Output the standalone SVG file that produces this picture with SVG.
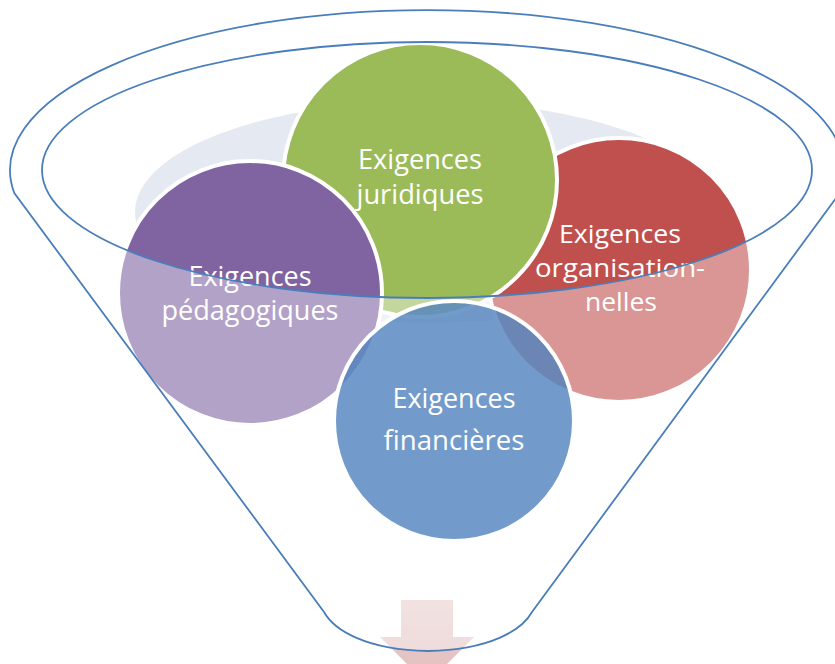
<svg xmlns="http://www.w3.org/2000/svg" width="835" height="664" viewBox="0 0 835 664">
  <defs>
    <style>
      .circle { stroke: #FFFFFF; stroke-width: 4; }
      .label { font-family: "Open Sans", "Liberation Sans", sans-serif; font-size: 27px; fill: #FFFFFF; text-anchor: middle; }
      .small { font-size: 25px; }
      .rim { fill: none; stroke: #4A7EBB; stroke-width: 1.8; }
    </style>
    <linearGradient id="arrowGrad" x1="0" y1="0" x2="0" y2="1">
      <stop offset="0" stop-color="#E9CFCF"/>
      <stop offset="1" stop-color="#E2BEBE"/>
    </linearGradient>
  </defs>
  <rect x="0" y="0" width="835" height="664" fill="#FFFFFF"/>

  <!-- pale back of the funnel opening -->
  <ellipse id="funnel-back" cx="427" cy="212" rx="292" ry="111" fill="#E5E9F2"/>

  <g id="node-organisationnelles">
    <circle class="circle" cx="619" cy="270" r="132" fill="#C0504D"/>
  </g>
  <g id="node-juridiques">
    <circle class="circle" cx="420" cy="180" r="137" fill="#9BBB59"/>
  </g>
  <g id="node-pedagogiques">
    <circle class="circle" cx="250" cy="293" r="132" fill="#8064A2"/>
  </g>

  <!-- result arrow -->
  <g id="arrow">
    <path d="M401 600 L453 600 L453 637 L474 637 L427 684 L380 637 L401 637 Z" fill="url(#arrowGrad)"/>
  </g>

  <!-- translucent funnel body (outside the opening) -->
  <path id="funnel-body" fill="#FFFFFF" fill-opacity="0.4" fill-rule="evenodd"
        d="M14.3 193 A417 160 0 1 1 839.7 193 L532 612 C522 630 490 650 428 651 C366 650 334 630 324 612 Z
           M42 170 A385 128 0 1 0 812 170 A385 128 0 1 0 42 170 Z"/>

  <g id="node-financieres">
    <circle cx="454" cy="421" r="120" fill="#4F81BD" fill-opacity="0.8" stroke="#FFFFFF" stroke-width="4"/>
  </g>

  <g id="labels">
    <text class="label" x="420" y="169" textLength="124" lengthAdjust="spacingAndGlyphs">Exigences</text>
    <text class="label" x="420" y="204" textLength="127" lengthAdjust="spacingAndGlyphs">juridiques</text>
    <text class="label small" x="620" y="243" textLength="122" lengthAdjust="spacingAndGlyphs">Exigences</text>
    <text class="label small" x="620" y="277" textLength="170" lengthAdjust="spacingAndGlyphs">organisation-</text>
    <text class="label small" x="621" y="311" textLength="72" lengthAdjust="spacingAndGlyphs">nelles</text>
    <text class="label" x="250" y="286" textLength="123" lengthAdjust="spacingAndGlyphs">Exigences</text>
    <text class="label" x="250" y="320" textLength="177" lengthAdjust="spacingAndGlyphs">pédagogiques</text>
    <text class="label" x="454" y="408" textLength="123" lengthAdjust="spacingAndGlyphs">Exigences</text>
    <text class="label" x="454" y="450" textLength="141" lengthAdjust="spacingAndGlyphs">financières</text>
  </g>

  <g id="connectors">
    <path id="funnel-outline" class="rim" d="M14.3 193 A417 160 0 1 1 839.7 193 L532 612 C522 630 490 650 428 651 C366 650 334 630 324 612 Z"/>
    <ellipse id="funnel-rim" class="rim" cx="427" cy="170" rx="385" ry="128"/>
  </g>
</svg>
